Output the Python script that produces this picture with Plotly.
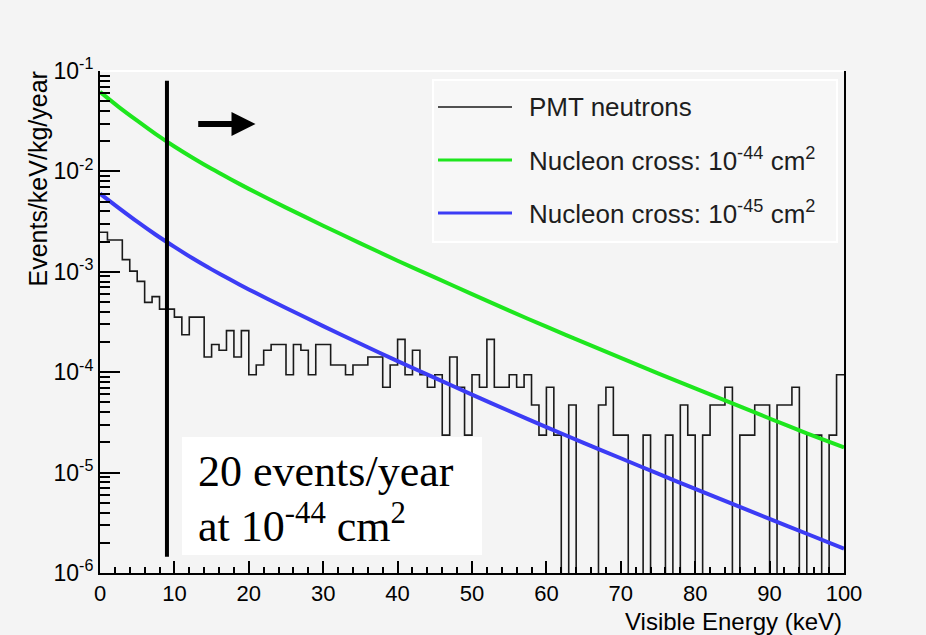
import math
import plotly.graph_objects as go

# ---------------- data ----------------
energy_kev = [0, 2.5, 5, 7.5, 10, 12.5, 15, 17.5, 20, 25, 30, 35, 40, 45, 50,
              55, 60, 65, 70, 75, 80, 85, 90, 95, 100]
rate_xs_1e44 = [6.2e-2, 4.4e-2, 3.2e-2, 2.35e-2, 1.77e-2, 1.36e-2, 1.06e-2, 8.4e-3,
                6.7e-3, 4.36e-3, 2.88e-3, 1.92e-3, 1.29e-3, 8.8e-4, 6.0e-4,
                4.1e-4, 2.84e-4, 1.98e-4, 1.39e-4, 9.75e-5, 6.9e-5, 4.9e-5,
                3.46e-5, 2.46e-5, 1.78e-5]
rate_xs_1e45 = [6.0e-3, 4.34e-3, 3.16e-3, 2.34e-3, 1.77e-3, 1.355e-3, 1.057e-3, 8.36e-4,
                6.67e-4, 4.36e-4, 2.88e-4, 1.92e-4, 1.29e-4, 8.77e-5, 5.98e-5,
                4.11e-5, 2.84e-5, 1.98e-5, 1.39e-5, 9.75e-6, 6.89e-6, 4.88e-6,
                3.46e-6, 2.46e-6, 1.75e-6]

bin_width_kev = 1.0
pmt_counts = [105, 88, 88, 56, 43, 34, 21, 24, 18, 18,
              15, 10, 15, 15, 6, 8, 7, 11, 6, 11,
              4, 5, 7, 8, 8, 4, 8, 7, 4, 8,
              8, 5, 5, 4, 5, 5, 6, 6, 3, 5,
              9, 4, 7, 4, 3, 4, 1, 6, 3, 1,
              4, 3, 9, 3, 3, 4, 3, 4, 2, 1,
              3, 1, 0, 2, 0, 0, 0, 2, 3, 1,
              1, 0, 0, 1, 0, 0, 1, 0, 2, 1,
              0, 1, 2, 2, 3, 0, 1, 1, 2, 2,
              0, 2, 2, 3, 0, 1, 1, 0, 1, 4]
rate_per_count = 2.36e-5        # events/keV/kg/year for one entry
log_floor = 1e-7                # empty bins drawn below the axis

threshold_kev = 9.0
threshold_span = [1.45e-6, 0.08]
arrow_from_kev, arrow_to_kev, arrow_rate = 13.0, 20.9, 0.0297

y_tick_vals = [1e-6, 1e-5, 1e-4, 1e-3, 1e-2, 1e-1]
y_tick_text = ["10<sup>-6</sup>", "10<sup>-5</sup>", "10<sup>-4</sup>",
               "10<sup>-3</sup>", "10<sup>-2</sup>", "10<sup>-1</sup>"]
x_tick_vals = [0, 10, 20, 30, 40, 50, 60, 70, 80, 90, 100]

legend_labels = ["PMT neutrons",
                 "Nucleon cross: 10<sup>-44</sup> cm<sup>2</sup>",
                 "Nucleon cross: 10<sup>-45</sup> cm<sup>2</sup>"]
note_lines = ["20 events/year", "at 10<sup>-44</sup> cm<sup>2</sup>"]

# ---------------- layout geometry ----------------
W, H = 926, 635
L, R, T, B = 100, 82, 71, 62
PW, PH = W - L - R, H - T - B


def px(xp):
    return (xp - L) / PW


def py(yp):
    return (H - B - yp) / PH


HIST_C = "#1a1a1a"
GREEN = "#1ee61e"
BLUE = "#3c3cf5"
SANS = "Liberation Sans, Arial"

fig = go.Figure()

# histogram (step)
edges = [i * bin_width_kev for i in range(len(pmt_counts) + 1)]
hist_vals = [max(n * rate_per_count, log_floor) for n in pmt_counts]
fig.add_trace(go.Scatter(x=edges, y=hist_vals + [hist_vals[-1]], mode="lines",
                         line=dict(color=HIST_C, width=1.6, shape="hv"),
                         showlegend=False, hoverinfo="skip"))

fig.add_trace(go.Scatter(x=energy_kev, y=rate_xs_1e44, mode="lines",
                         line=dict(color=GREEN, width=4, shape="spline", smoothing=0.6),
                         showlegend=False))
fig.add_trace(go.Scatter(x=energy_kev, y=rate_xs_1e45, mode="lines",
                         line=dict(color=BLUE, width=4, shape="spline", smoothing=0.6),
                         showlegend=False))

# threshold line
fig.add_trace(go.Scatter(x=[threshold_kev, threshold_kev], y=threshold_span,
                         mode="lines", line=dict(color="black", width=4),
                         showlegend=False, hoverinfo="skip"))

shapes = []
annotations = []

# top frame (faint)
shapes.append(dict(type="line", xref="paper", yref="paper", x0=0, x1=1, y0=1, y1=1,
                   line=dict(color="white", width=2)))

# legend box
shapes.append(dict(type="rect", xref="paper", yref="paper",
                   x0=px(433), x1=px(837), y0=py(242), y1=py(80),
                   fillcolor="#f7f7f7", line=dict(color="white", width=2), layer="above"))
rows = [107, 160, 213]
cols = [HIST_C, GREEN, BLUE]
widths = [1.6, 3, 3]
for r, c, w, lab in zip(rows, cols, widths, legend_labels):
    shapes.append(dict(type="line", xref="paper", yref="paper",
                       x0=px(438), x1=px(512), y0=py(r), y1=py(r),
                       line=dict(color=c, width=w), layer="above"))
    annotations.append(dict(xref="paper", yref="paper", x=px(527), y=py(r),
                            xanchor="left", yanchor="middle", showarrow=False,
                            text=lab, font=dict(family=SANS, size=26, color="#1e1e1e")))

# note box
shapes.append(dict(type="rect", xref="paper", yref="paper",
                   x0=px(182), x1=px(482), y0=py(555), y1=py(437),
                   fillcolor="white", line=dict(width=0), layer="above"))
for yy, txt in zip([471, 523], note_lines):
    annotations.append(dict(xref="paper", yref="paper", x=px(196), y=py(yy),
                            xanchor="left", yanchor="middle", showarrow=False,
                            text=txt, font=dict(family="Liberation Serif, Times New Roman",
                                                size=44, color="black")))

# arrow
annotations.append(dict(xref="x", yref="y", axref="x", ayref="y",
                        x=arrow_to_kev, y=math.log10(arrow_rate),
                        ax=arrow_from_kev, ay=math.log10(arrow_rate),
                        showarrow=True, arrowhead=2, arrowwidth=6, arrowsize=0.8,
                        arrowcolor="black", text=""))

# axis titles
annotations.append(dict(xref="paper", yref="paper", x=px(37), y=py(70),
                        xanchor="center", yanchor="top", textangle=-90, showarrow=False,
                        text="Events/keV/kg/year",
                        font=dict(family=SANS, size=25, color="black")))
annotations.append(dict(xref="paper", yref="paper", x=1.0, y=py(621),
                        xanchor="right", yanchor="middle", showarrow=False,
                        text="Visible Energy (keV)",
                        font=dict(family=SANS, size=24, color="black")))

fig.update_layout(
    width=W, height=H,
    margin=dict(l=L, r=R, t=T, b=B),
    paper_bgcolor="#f4f4f4", plot_bgcolor="#f4f4f4",
    shapes=shapes, annotations=annotations,
    showlegend=False,
    font=dict(family=SANS, size=22, color="black"),
)
fig.update_xaxes(range=[0, 100], tickvals=x_tick_vals, ticks="inside", ticklen=12,
                 tickwidth=2, tickcolor="black", showline=True, linecolor="black",
                 linewidth=2, showgrid=False, zeroline=False,
                 tickfont=dict(size=22),
                 minor=dict(dtick=2, ticks="inside", ticklen=6, tickcolor="black",
                            tickwidth=1.5, showgrid=False))
fig.update_yaxes(type="log", range=[-6, -1], tickvals=y_tick_vals, ticktext=y_tick_text,
                 ticks="inside", ticklen=20, tickwidth=2, tickcolor="black",
                 showline=True, linecolor="black", linewidth=2, mirror=True,
                 showgrid=False, zeroline=False, tickfont=dict(size=23),
                 minor=dict(dtick="D1", ticks="inside", ticklen=10, tickcolor="black",
                            tickwidth=1.5, showgrid=False))

fig.write_html("out.html")
